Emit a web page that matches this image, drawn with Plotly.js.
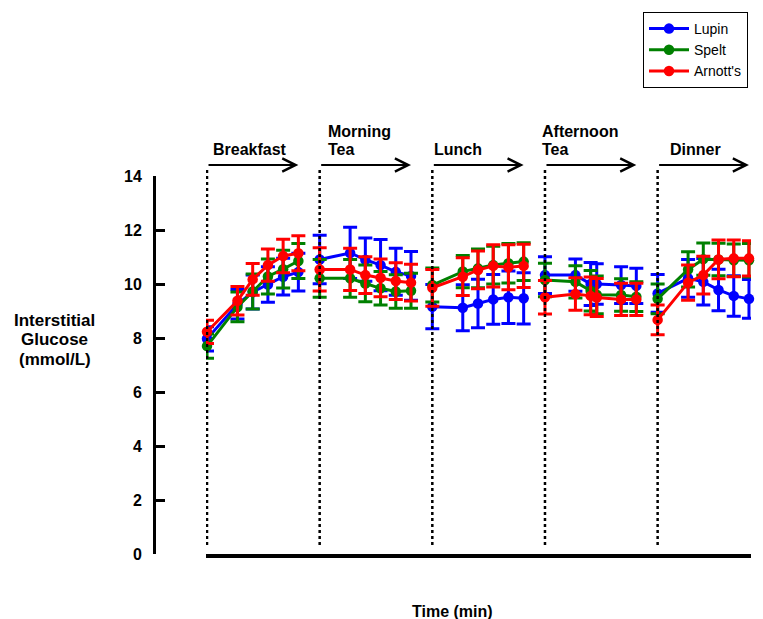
<!DOCTYPE html>
<html><head><meta charset="utf-8">
<script src="https://cdn.plot.ly/plotly-3.0.1.min.js"></script>
<style>html,body{margin:0;padding:0;background:#fff}#chart{width:763px;height:619px}</style>
</head><body><div id="chart"></div>
<script>
// ---------- data ----------
const meals = ["Breakfast", "Morning Tea", "Lunch", "Afternoon Tea", "Dinner"];
const mealStart = [0, 111, 222, 333, 444];          // minutes
const mealTimes = [
  [0, 30, 45, 60, 75, 90],
  [0, 30, 45, 60, 75, 90],
  [0, 30, 45, 60, 75, 90],
  [0, 30, 45, 51, 75, 90],
  [0, 30, 45, 60, 75, 90]
];
const seriesNames = ["Lupin", "Spelt", "Arnott's"];

const lupinMean = [
  [7.97, 9.25, 9.70, 9.98, 10.27, 10.44],
  [10.91, 11.15, 10.90, 10.70, 10.45, 10.30],
  [9.16, 9.12, 9.28, 9.43, 9.51, 9.47],
  [10.33, 10.33, 10.00, 10.00, 9.96, 9.93],
  [9.65, 10.21, 10.08, 9.78, 9.56, 9.45]
];
const lupinSem = [
  [0.45, 0.55, 0.63, 0.66, 0.68, 0.70],
  [0.90, 0.95, 0.80, 0.95, 0.87, 0.90],
  [0.82, 0.85, 0.90, 0.92, 0.97, 0.95],
  [0.68, 0.60, 0.80, 0.75, 0.68, 0.65],
  [0.70, 0.70, 0.86, 0.77, 0.75, 0.72]
];
const speltMean = [
  [7.70, 9.15, 9.72, 10.28, 10.55, 10.85],
  [10.21, 10.21, 10.02, 9.84, 9.72, 9.75],
  [9.96, 10.46, 10.58, 10.70, 10.77, 10.83],
  [10.15, 10.08, 9.75, 9.60, 9.59, 9.53],
  [9.45, 10.54, 10.92, 10.91, 10.88, 10.88]
];
const speltSem = [
  [0.45, 0.55, 0.65, 0.65, 0.70, 0.65],
  [0.70, 0.70, 0.68, 0.62, 0.62, 0.65],
  [0.63, 0.60, 0.72, 0.70, 0.73, 0.70],
  [0.62, 0.60, 0.75, 0.70, 0.60, 0.55],
  [0.55, 0.65, 0.60, 0.60, 0.60, 0.62]
];
const arnottsMean = [
  [8.23, 9.38, 10.17, 10.70, 11.04, 11.14],
  [10.54, 10.54, 10.33, 10.23, 10.11, 10.05],
  [9.86, 10.27, 10.52, 10.67, 10.62, 10.67],
  [9.51, 9.63, 9.56, 9.50, 9.43, 9.43],
  [8.67, 10.05, 10.33, 10.91, 10.95, 10.95]
];
const arnottsSem = [
  [0.43, 0.53, 0.59, 0.60, 0.62, 0.65],
  [0.80, 0.78, 0.68, 0.70, 0.68, 0.68],
  [0.68, 0.70, 0.70, 0.78, 0.83, 0.80],
  [0.62, 0.60, 0.70, 0.70, 0.60, 0.60],
  [0.55, 0.65, 0.70, 0.72, 0.68, 0.65]
];
const yTicks = [0, 2, 4, 6, 8, 10, 12, 14];
const mealDuration = 90;

// ---------- build ----------
const FONT = "Arial, 'Liberation Sans', sans-serif";
const colors = ["#0000ff", "#008000", "#ff0000"];
const allMeans = [lupinMean, speltMean, arnottsMean];
const allSems = [lupinSem, speltSem, arnottsSem];

function buildSeries(means, sems) {
  const x = [], y = [], e = [];
  meals.forEach((m, i) => {
    mealTimes[i].forEach((t, j) => {
      x.push(mealStart[i] + t); y.push(means[i][j]); e.push(sems[i][j]);
    });
    if (i < meals.length - 1) { x.push(null); y.push(null); e.push(null); }
  });
  return {x, y, e};
}

const traces = seriesNames.map((name, k) => {
  const s = buildSeries(allMeans[k], allSems[k]);
  return {
    type: "scatter", mode: "lines+markers", name: name,
    x: s.x, y: s.y, connectgaps: false, cliponaxis: false,
    line: {color: colors[k], width: 3},
    marker: {color: colors[k], size: 10.5},
    error_y: {type: "data", array: s.e, visible: true, color: colors[k], thickness: 3, width: 7}
  };
});

// pixel helpers for layout placement
const L = 100, R = 12, T = 176, B = 65, W = 763, H = 619;
const PW = W - L - R, PH = H - T - B;
const px2x = p => (p - L) / PW;
const py2y = p => (H - B - p) / PH;

const shapes = [];
const annotations = [];
const labelOffsets = [4, 6, 0, -5, 10];
meals.forEach((m, i) => {
  shapes.push({type: "line", xref: "x", yref: "paper",
    x0: mealStart[i], x1: mealStart[i], y0: py2y(545), y1: py2y(168),
    line: {color: "#000", width: 2.5, dash: "dot"}});
  annotations.push({xref: "x", yref: "paper", x: mealStart[i] + mealDuration, y: py2y(165),
    axref: "x", ayref: "pixel", ax: mealStart[i], ay: 0, text: "", showarrow: true,
    arrowhead: 5, arrowsize: 1.3, arrowwidth: 2, arrowcolor: "#000", standoff: 0, startstandoff: 0});
  const lines = m.split(" ");
  lines.forEach((ln, k) => {
    const yp = 150 - (lines.length - 1 - k) * 19;
    annotations.push({xref: "x", yref: "paper", x: mealStart[i] + labelOffsets[i], y: py2y(yp),
      xanchor: "left", yanchor: "middle", showarrow: false, text: ln,
      font: {family: FONT, size: 16, color: "#000", weight: "bold"}});
  });
});
["Interstitial", "Glucose", "(mmol/L)"].forEach((t, k) => {
  annotations.push({xref: "paper", yref: "paper", x: px2x(55), y: py2y(320 + k * 19.5),
    xanchor: "center", yanchor: "middle", showarrow: false, text: t,
    font: {family: FONT, size: 17, color: "#000", weight: "bold"}});
});
annotations.push({xref: "paper", yref: "paper", x: px2x(453), y: py2y(611),
  xanchor: "center", yanchor: "middle", showarrow: false, text: "Time (min)",
  font: {family: FONT, size: 16, color: "#000", weight: "bold"}});

const layout = {
  width: W, height: H,
  margin: {l: L, r: R, t: T, b: B, pad: 0},
  paper_bgcolor: "#fff", plot_bgcolor: "rgba(0,0,0,0)",
  font: {family: FONT, color: "#000"},
  showlegend: true,
  legend: {x: px2x(643), xanchor: "left", y: py2y(12), yanchor: "top",
    bordercolor: "#000", borderwidth: 1, bgcolor: "#fff", itemwidth: 40,
    font: {family: FONT, size: 14, color: "#000"}, tracegroupgap: 0},
  xaxis: {domain: [px2x(206), 1], range: [-1, 536], showline: true, linewidth: 4, linecolor: "#000",
    showticklabels: false, ticks: "", showgrid: false, zeroline: false, fixedrange: true},
  yaxis: {anchor: "free", position: px2x(154), range: [0, 14], tickvals: yTicks,
    ticktext: yTicks.map(String), ticks: "inside", ticklen: 9, tickwidth: 3, tickcolor: "#000",
    showline: true, linewidth: 3, linecolor: "#000", showgrid: false, zeroline: false,
    ticklabelstandoff: 8, tickfont: {family: FONT, size: 16, color: "#000", weight: "bold"}},
  shapes: shapes,
  annotations: annotations
};

Plotly.newPlot("chart", traces, layout, {displayModeBar: false, staticPlot: true});
</script>
</body></html>
